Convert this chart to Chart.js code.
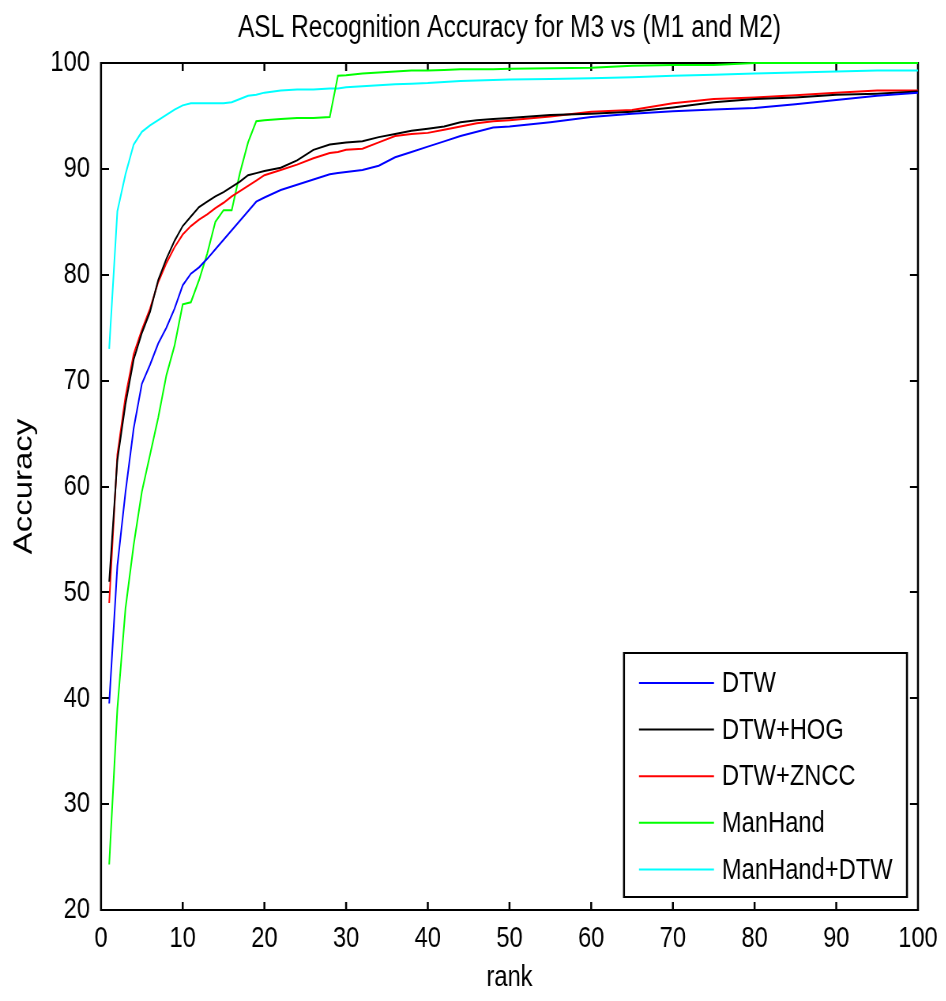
<!DOCTYPE html>
<html>
<head>
<meta charset="utf-8">
<script src="https://cdn.jsdelivr.net/npm/chart.js@4.4.0/dist/chart.umd.min.js"></script>
<style>
  body { margin: 0; background: #fff; overflow: hidden; }
  /* the original figure is squeezed sideways, so draw wide and compress */
  #line-chart { transform: scaleX(0.79); transform-origin: 0 0; }
</style>
</head>
<body>
<canvas id="line-chart" width="1198" height="1001" style="width:1198px;height:1001px"></canvas>
<script>
// values
var ranks = [1,2,3,4,5,6,7,8,9,10,11,12,13,14,15,16,17,18,19,20,
             22,24,26,28,29,30,32,34,36,38,40,42,44,46,48,50,55,60,65,70,75,80,85,90,95,100];

var dtw = [39.5,52.5,59.5,65.5,69.7,71.5,73.5,75.0,76.8,79.0,80.1,80.7,81.5,82.4,83.3,84.2,85.1,86.0,86.9,87.3,
           88.0,88.5,89.0,89.5,89.6,89.7,89.9,90.3,91.1,91.6,92.1,92.6,93.1,93.5,93.9,94.0,94.4,94.9,95.2,95.45,95.6,95.75,96.1,96.5,96.9,97.2];

var dtwHog = [51,62.5,67.8,72,74.5,76.5,79.5,81.5,83.2,84.6,85.5,86.4,86.9,87.4,87.8,88.3,88.8,89.4,89.6,89.8,
              90.1,90.8,91.8,92.3,92.4,92.5,92.6,93.0,93.3,93.6,93.8,94.0,94.4,94.6,94.7,94.8,95.1,95.2,95.4,95.8,96.3,96.6,96.75,97.0,97.1,97.3];

var dtwZncc = [49,63,68.5,72.5,74.8,76.8,79.3,81.1,82.6,83.8,84.6,85.2,85.7,86.3,86.8,87.4,87.9,88.4,88.9,89.4,
               89.9,90.4,91.0,91.5,91.6,91.8,91.9,92.5,93.1,93.3,93.4,93.7,94.0,94.3,94.5,94.6,94.95,95.4,95.55,96.2,96.6,96.75,96.95,97.2,97.4,97.4];

var manHand = [24.3,39,48.5,54.5,59.5,63,66.5,70.5,73.3,77.2,77.4,79.5,82.0,85,86.1,86.1,89.6,92.5,94.5,94.6,
               94.7,94.8,94.8,94.9,98.8,98.85,99.0,99.1,99.2,99.3,99.3,99.35,99.4,99.4,99.4,99.45,99.5,99.55,99.75,99.8,99.8,100,100,100,100,100];

var manHandDtw = [73,86,89.5,92.3,93.5,94.1,94.6,95.1,95.6,96.0,96.2,96.2,96.2,96.2,96.2,96.3,96.6,96.9,97.0,97.2,
                  97.4,97.5,97.5,97.6,97.6,97.7,97.8,97.9,98.0,98.05,98.1,98.2,98.3,98.35,98.4,98.45,98.5,98.55,98.65,98.8,98.9,99.0,99.1,99.2,99.3,99.3];

var seriesNames = ['DTW', 'DTW+HOG', 'DTW+ZNCC', 'ManHand', 'ManHand+DTW'];
var seriesColors = ['#0000ff', '#000000', '#ff0000', '#00ff00', '#00ffff'];
var seriesValues = [dtw, dtwHog, dtwZncc, manHand, manHandDtw];

var SX = 0.79;   // horizontal squeeze applied by the css transform
var FONT = '"Liberation Sans", Arial, sans-serif';

function points(vals) {
    return ranks.map(function(r, i){ return {x: r, y: vals[i]}; });
}

// matlab-style box with inward ticks (under the lines), legend on top
var matlabFrame = {
    id: 'matlabFrame',
    beforeDatasetsDraw: function(chart) {
        var ctx = chart.ctx, a = chart.chartArea;
        var xs = chart.scales.x, ys = chart.scales.y;
        ctx.save();
        ctx.strokeStyle = '#000';
        // horizontal strokes
        ctx.lineWidth = 2;
        ctx.beginPath();
        ctx.moveTo(a.left, a.top); ctx.lineTo(a.right, a.top);
        ctx.moveTo(a.left, a.bottom); ctx.lineTo(a.right, a.bottom);
        ys.ticks.forEach(function(t){
            var py = Math.round(ys.getPixelForValue(t.value));
            ctx.moveTo(a.left, py); ctx.lineTo(a.left + 8 / SX, py);
            ctx.moveTo(a.right, py); ctx.lineTo(a.right - 8 / SX, py);
        });
        ctx.stroke();
        // vertical strokes
        ctx.lineWidth = 2 / SX;
        ctx.beginPath();
        ctx.moveTo(a.left, a.top - 1); ctx.lineTo(a.left, a.bottom + 1);
        ctx.moveTo(a.right, a.top - 1); ctx.lineTo(a.right, a.bottom + 1);
        xs.ticks.forEach(function(t){
            var px = xs.getPixelForValue(t.value);
            ctx.moveTo(px, a.bottom); ctx.lineTo(px, a.bottom - 8);
            ctx.moveTo(px, a.top); ctx.lineTo(px, a.top + 8);
        });
        ctx.stroke();
        ctx.restore();
    },
    afterDatasetsDraw: function(chart) {
        var ctx = chart.ctx, a = chart.chartArea;
        ctx.save();
        var bw = 283 / SX, bh = 244;
        var bx = a.right - 11 / SX - bw, by = a.bottom - 13 - bh;
        ctx.fillStyle = '#fff';
        ctx.fillRect(bx, by, bw, bh);
        ctx.strokeStyle = '#000';
        ctx.lineWidth = 2;
        ctx.beginPath();
        ctx.moveTo(bx, by); ctx.lineTo(bx + bw, by);
        ctx.moveTo(bx, by + bh); ctx.lineTo(bx + bw, by + bh);
        ctx.stroke();
        ctx.lineWidth = 2 / SX;
        ctx.beginPath();
        ctx.moveTo(bx, by - 1); ctx.lineTo(bx, by + bh + 1);
        ctx.moveTo(bx + bw, by - 1); ctx.lineTo(bx + bw, by + bh + 1);
        ctx.stroke();
        ctx.font = '30px ' + FONT;
        ctx.textBaseline = 'middle';
        chart.data.datasets.forEach(function(ds, i){
            var y = by + 30 + i * 46.6;
            ctx.strokeStyle = ds.borderColor;
            ctx.lineWidth = 2;
            ctx.beginPath();
            ctx.moveTo(bx + 15 / SX, y); ctx.lineTo(bx + 90 / SX, y);
            ctx.stroke();
            ctx.fillStyle = '#000';
            ctx.fillText(ds.label, bx + 98 / SX, y + 1);
        });
        ctx.restore();
    }
};

window.onload = function(){
    new Chart(document.getElementById('line-chart'), {
        type: 'line',
        data: {
            datasets: seriesNames.map(function(name, i){
                return {
                    label: name,
                    data: points(seriesValues[i]),
                    borderColor: seriesColors[i],
                    backgroundColor: seriesColors[i],
                    borderWidth: 2,
                    pointRadius: 0,
                    fill: false,
                    tension: 0,
                    clip: 2
                };
            })
        },
        options: {
            responsive: false,
            animation: false,
            devicePixelRatio: 1,
            layout: { padding: { left: 0, right: 27 / SX, top: 0, bottom: 0 } },
            plugins: {
                legend: { display: false },
                tooltip: { enabled: false },
                title: {
                    display: true,
                    fullSize: false,
                    text: 'ASL Recognition Accuracy for M3 vs (M1 and M2)',
                    color: '#000',
                    font: { family: FONT, size: 31, weight: 'normal', lineHeight: 1 },
                    padding: { top: 13, bottom: 19 }
                }
            },
            scales: {
                x: {
                    type: 'linear',
                    min: 0, max: 100,
                    grid: { display: false, drawTicks: false },
                    border: { display: false },
                    ticks: { stepSize: 10, color: '#000', padding: 11, maxRotation: 0,
                             font: { family: FONT, size: 30 } },
                    title: { display: true, text: 'rank', color: '#000',
                             font: { family: FONT, size: 30, lineHeight: 1 },
                             padding: { top: 0, bottom: 8 } },
                    afterFit: function(s){ s.height = 91; }
                },
                y: {
                    min: 20, max: 100,
                    grid: { display: false, drawTicks: false },
                    border: { display: false },
                    ticks: { stepSize: 10, color: '#000', padding: 11 / SX,
                             font: { family: FONT, size: 30 } },
                    title: { display: true, text: 'Accuracy', color: '#000',
                             font: { family: FONT, size: 33, lineHeight: 1 },
                             padding: { top: 13 / SX - 2, bottom: 0 } },
                    afterFit: function(s){ s.width = 101 / SX; }
                }
            }
        },
        plugins: [matlabFrame]
    });
};
</script>
</body>
</html>
